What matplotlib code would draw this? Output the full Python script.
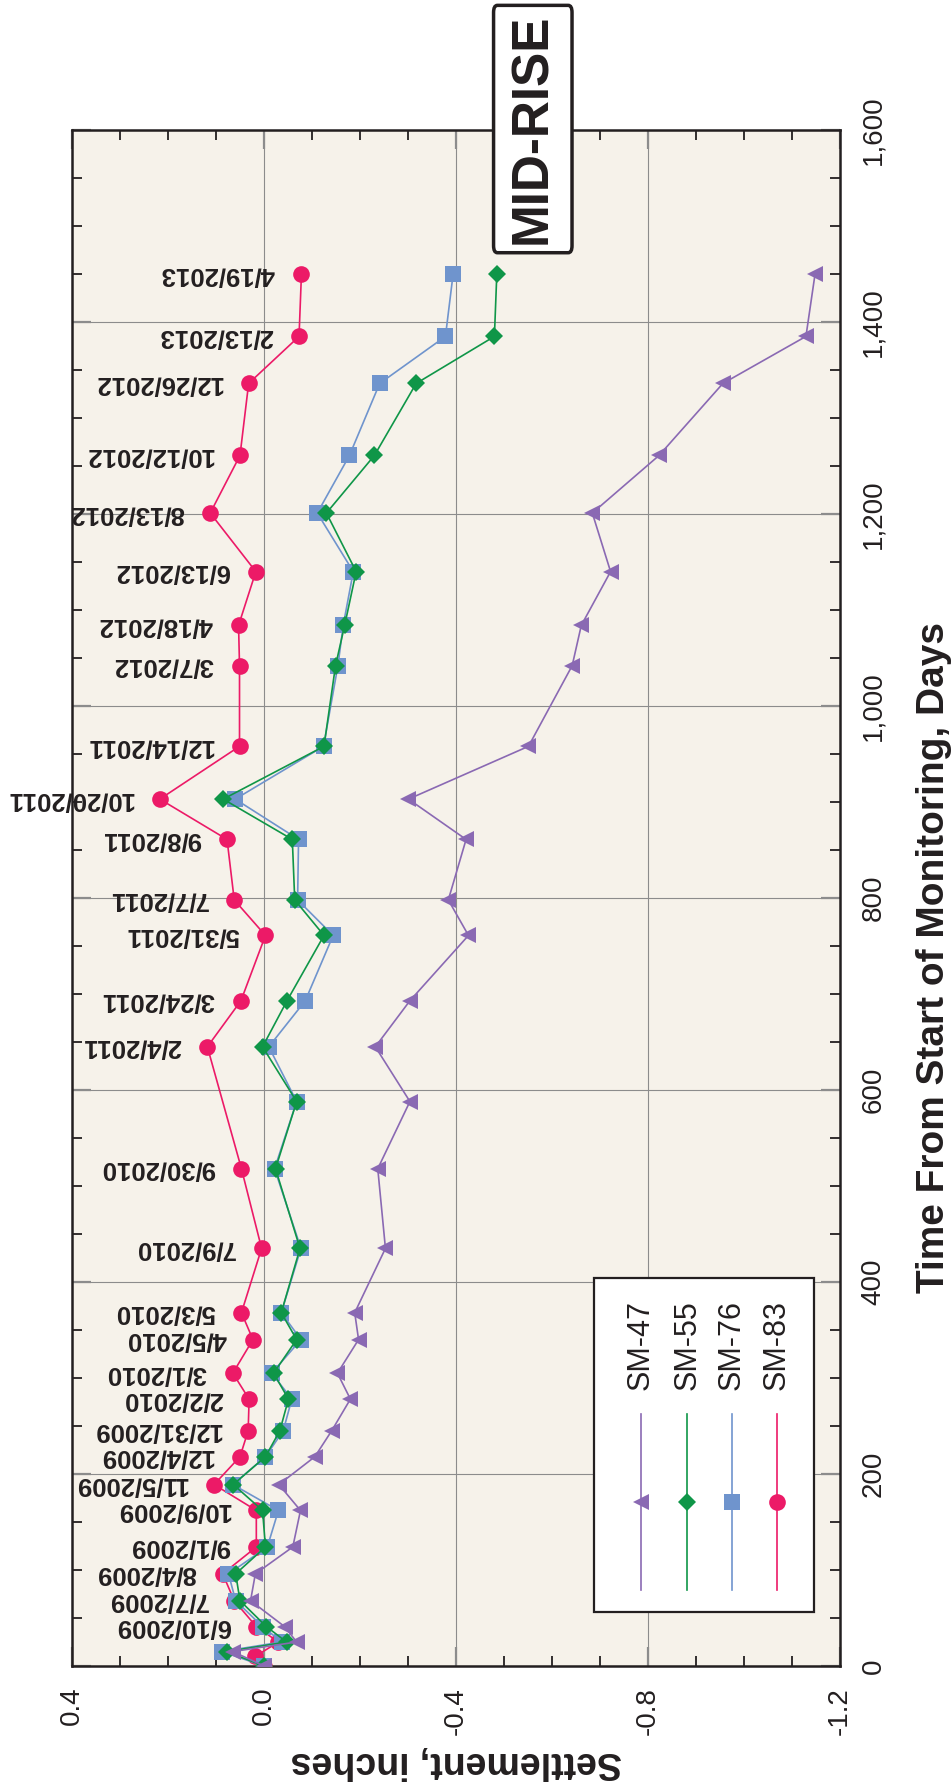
"""Settlement monitor plot (SM-47/55/76/83), drawn in portrait orientation."""

import matplotlib

matplotlib.use("Agg")
import matplotlib.pyplot as plt
from matplotlib.lines import Line2D
from matplotlib.patches import FancyBboxPatch, Rectangle
from matplotlib.ticker import FixedLocator, MultipleLocator, StrMethodFormatter

plt.rcParams["font.family"] = ["Liberation Sans", "DejaVu Sans"]
INK = "#231f20"

# ---- data (days from start of monitoring, settlement in inches) ----
sm47_days = [0, 15, 25, 41, 68, 96, 124, 162, 189, 218, 245, 278, 305, 340, 368,
             435, 518, 588, 645, 693, 761, 798, 861, 903, 958, 1042, 1084, 1140,
             1201, 1261, 1336, 1385, 1450]
sm47 = [0.0, 0.065, -0.068, -0.043, 0.028, 0.018, -0.060, -0.076, -0.031, -0.106,
        -0.141, -0.180, -0.153, -0.197, -0.189, -0.253, -0.237, -0.304, -0.232,
        -0.304, -0.426, -0.384, -0.421, -0.301, -0.551, -0.642, -0.661, -0.722,
        -0.684, -0.823, -0.956, -1.129, -1.148]

sm55_days = sm47_days
sm55 = [0.0, 0.078, -0.047, -0.005, 0.050, 0.059, -0.003, 0.003, 0.064, -0.003,
        -0.033, -0.051, -0.020, -0.068, -0.036, -0.075, -0.024, -0.068, 0.003,
        -0.048, -0.125, -0.064, -0.059, 0.085, -0.125, -0.149, -0.168, -0.192,
        -0.130, -0.230, -0.317, -0.480, -0.485]

sm76_days = sm47_days
sm76 = [0.0, 0.088, -0.037, 0.003, 0.059, 0.074, -0.007, -0.030, 0.065, -0.003,
        -0.040, -0.058, -0.016, -0.077, -0.036, -0.077, -0.022, -0.068, -0.010,
        -0.086, -0.144, -0.070, -0.072, 0.060, -0.124, -0.154, -0.165, -0.186,
        -0.111, -0.178, -0.241, -0.378, -0.394]

sm83_days = [0, 10, 25, 41, 68, 96, 124, 162, 189, 218, 245, 278, 305, 340, 368,
             435, 518, 645, 693, 761, 798, 861, 903, 958, 1042, 1084, 1140,
             1201, 1261, 1336, 1385, 1450]
sm83 = [0.0, 0.018, -0.030, 0.016, 0.062, 0.086, 0.016, 0.016, 0.104, 0.050,
        0.033, 0.031, 0.065, 0.023, 0.047, 0.005, 0.047, 0.118, 0.048, -0.003,
        0.062, 0.077, 0.217, 0.051, 0.051, 0.053, 0.017, 0.112, 0.050, 0.032,
        -0.073, -0.078]

survey_days = [41, 68, 96, 124, 162, 189, 218, 245, 278, 305, 340, 368, 435, 518,
               645, 693, 761, 798, 861, 903, 958, 1042, 1084, 1140, 1201, 1261,
               1336, 1385, 1450]
survey_labels = ["6/10/2009", "7/7/2009", "8/4/2009", "9/1/2009", "10/9/2009",
                 "11/5/2009", "12/4/2009", "12/31/2009", "2/2/2010", "3/1/2010",
                 "4/5/2010", "5/3/2010", "7/9/2010", "9/30/2010", "2/4/2011",
                 "3/24/2011", "5/31/2011", "7/7/2011", "9/8/2011", "10/20/2011",
                 "12/14/2011", "3/7/2012", "4/18/2012", "6/13/2012", "8/13/2012",
                 "10/12/2012", "12/26/2012", "2/13/2013", "4/19/2013"]

settle_ticks = [0.4, 0.0, -0.4, -0.8, -1.2]
settle_ticklabels = ["0.4", "0.0", "-0.4", "-0.8", "-1.2"]

series = [
    ("SM-83", sm83_days, sm83, "#ec1a67", "o", 12),
    ("SM-76", sm76_days, sm76, "#6f94cd", "s", 11),
    ("SM-55", sm55_days, sm55, "#0f9648", "D", 9),
    ("SM-47", sm47_days, sm47, "#8a69b3", "<", 12),
]

fig = plt.figure(figsize=(9.51, 17.86), dpi=100)
ax = fig.add_axes([0.0757, 0.0672, 0.8076, 0.86])
ax.set_facecolor("#f6f2ea")

for z, (name, days, vals, color, marker, ms) in enumerate(series):
    ax.plot(vals, days, color=color, lw=1.2, marker=marker, ms=ms,
            markeredgewidth=0, zorder=3 + z)

# survey date labels next to the SM-83 points
sm83_at = dict(zip(sm83_days, sm83))
for d, lab in zip(survey_days, survey_labels):
    ax.annotate(lab, xy=(sm83_at[d], d), xytext=(-19, 0),
                textcoords="offset points", rotation=180, ha="right",
                va="center", fontsize=18.5, fontweight="bold", color=INK,
                annotation_clip=False)

ax.set_xlim(0.4, -1.2)
ax.set_ylim(0, 1600)
ax.xaxis.set_major_locator(FixedLocator(settle_ticks))
ax.set_xticklabels(settle_ticklabels)
ax.xaxis.set_minor_locator(MultipleLocator(0.1))
ax.yaxis.set_major_locator(MultipleLocator(200))
ax.yaxis.set_minor_locator(MultipleLocator(50))
ax.yaxis.set_major_formatter(StrMethodFormatter("{x:,.0f}"))

ax.grid(which="major", color="#8c8c8c", lw=0.8)
ax.set_axisbelow(True)
ax.tick_params(which="both", direction="in", top=True, right=True,
               labelleft=False, labelright=True, labelcolor=INK)
ax.tick_params(which="major", length=14, width=1.6, color="#8c8c8c",
               labelsize=20, pad=15)
ax.tick_params(which="minor", length=7, width=1.3, color=INK)
ax.tick_params(axis="x", labelrotation=90)
ax.tick_params(axis="y", labelrotation=90)
for t in ax.yaxis.get_major_ticks():
    t.label2.set_va("center")
for s in ax.spines.values():
    s.set_linewidth(1.8)
    s.set_color(INK)

ax.set_xlabel("Settlement, inches", rotation=180, fontsize=27,
              fontweight="bold", color=INK, va="center", ha="center")
ax.xaxis.set_label_coords(0.5, -0.0625)
ax.yaxis.set_label_position("right")
ax.set_ylabel("Time From Start of Monitoring, Days", rotation=90, fontsize=28,
              fontweight="bold", color=INK, va="center", ha="center")
ax.yaxis.set_label_coords(1.1224, 0.461)

# legend, laid out sideways like the rest of the sheet
ax.add_patch(Rectangle((0.6797, 0.0352), 0.2864, 0.2174, transform=ax.transAxes,
                       facecolor="white", edgecolor=INK, lw=1.6, zorder=10))
leg_x = [0.741, 0.801, 0.859, 0.918]
for xc, (name, _, _, color, marker, ms) in zip(leg_x, series[::-1]):
    ax.add_line(Line2D([xc, xc], [0.0495, 0.164], transform=ax.transAxes,
                       color=color, lw=1.2, zorder=11))
    ax.add_line(Line2D([xc], [0.1068], transform=ax.transAxes, marker=marker,
                       ms=ms, color=color, markeredgewidth=0, zorder=12))
    ax.text(xc, 0.1797, name, rotation=90, ha="center", va="bottom",
            transform=ax.transAxes, fontsize=22, color=INK, zorder=12)

# building tag
fig.add_artist(FancyBboxPatch((0.519, 0.8585), 0.0825, 0.1385,
                              boxstyle="round,pad=0,rounding_size=0.004",
                              transform=fig.transFigure, facecolor="white",
                              edgecolor=INK, lw=2.5, zorder=20))
fig.text(0.560, 0.9278, "MID-RISE", rotation=90, ha="center", va="center",
         fontsize=37, fontweight="bold", color=INK, zorder=21)

fig.savefig("out.png", dpi=100)
